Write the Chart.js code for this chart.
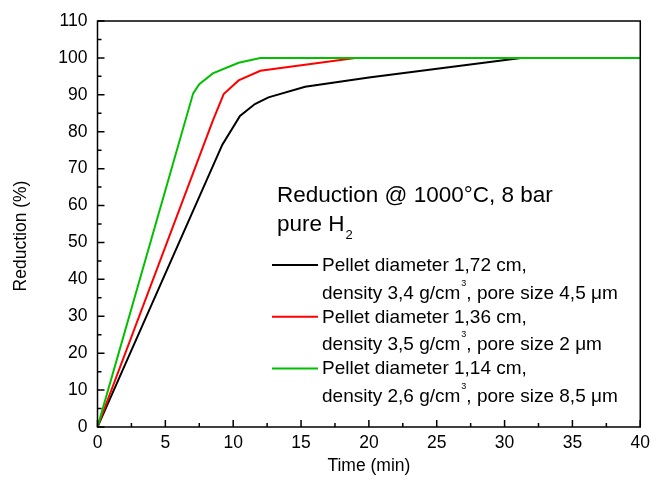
<!DOCTYPE html>
<html>
<head>
<meta charset="utf-8">
<script src="https://cdn.jsdelivr.net/npm/chart.js@4.4.1/dist/chart.umd.min.js"></script>
<style>
  html,body{margin:0;padding:0;background:#fff;}
  #wrap{width:656px;height:487px;position:relative;}
</style>
</head>
<body>
<div id="wrap"><canvas id="c" width="656" height="487"></canvas></div>
<script>
// data (time in min, reduction in %)
const blackX = [0, 9.2, 10.5, 11.6, 12.6, 15.3, 20, 31.2, 40];
const blackY = [0, 76.5, 84.3, 87.5, 89.3, 92.2, 94.7, 100, 100];
const redX = [0, 8.5, 9.3, 10.4, 12, 19, 40];
const redY = [0, 83, 90.2, 93.9, 96.5, 100, 100];
const greenX = [0, 7.05, 7.5, 8.5, 10.4, 12, 40];
const greenY = [0, 90.4, 92.9, 95.8, 98.7, 100, 100];

const xTicks = [0, 5, 10, 15, 20, 25, 30, 35, 40];
const yTicks = [0, 10, 20, 30, 40, 50, 60, 70, 80, 90, 100, 110];

const titleLines = ['Reduction @ 1000°C, 8 bar', 'pure H'];
const legendItems = [
  {color:'#000000', l1:'Pellet diameter 1,72 cm,', l2a:'density 3,4 g/cm', l2b:', pore size 4,5 μm'},
  {color:'#ff0000', l1:'Pellet diameter 1,36 cm,', l2a:'density 3,5 g/cm', l2b:', pore size 2 μm'},
  {color:'#00c000', l1:'Pellet diameter 1,14 cm,', l2a:'density 2,6 g/cm', l2b:', pore size 8,5 μm'}
];

const pts = (xs, ys) => xs.map((x,i)=>({x, y:ys[i]}));
const FONT = '"Liberation Sans", Arial, sans-serif';

const frame = {
  id:'frame',
  afterDatasetsDraw(chart){
    const {ctx, chartArea:a, scales:{x, y}} = chart;
    ctx.save();
    ctx.strokeStyle = '#000'; ctx.lineWidth = 1.5;
    ctx.strokeRect(a.left, a.top, a.right-a.left, a.bottom-a.top);
    // inward ticks, major + minor
    ctx.beginPath();
    for(let v=0; v<=40; v+=2.5){
      const px = x.getPixelForValue(v), len = (v%5===0)?7:4;
      ctx.moveTo(px, a.bottom); ctx.lineTo(px, a.bottom-len);
    }
    for(let v=0; v<=110; v+=5){
      const py = y.getPixelForValue(v), len = (v%10===0)?7:4;
      ctx.moveTo(a.left, py); ctx.lineTo(a.left+len, py);
    }
    ctx.stroke();

    // axis titles
    ctx.fillStyle = '#000';
    ctx.font = '17.5px '+FONT;
    ctx.textAlign = 'center'; ctx.textBaseline = 'middle';
    ctx.fillText('Time (min)', (a.left+a.right)/2, 466);
    ctx.save();
    ctx.translate(21, 236); ctx.rotate(-Math.PI/2);
    ctx.fillText('Reduction (%)', 0, 0);
    ctx.restore();

    // annotation
    ctx.textAlign = 'left'; ctx.textBaseline = 'alphabetic';
    ctx.font = '22.5px '+FONT;
    ctx.fillText(titleLines[0], 277, 202);
    ctx.fillText(titleLines[1], 277, 231);
    const wH = ctx.measureText(titleLines[1]).width;
    ctx.font = '13px '+FONT;
    ctx.fillText('2', 277+wH+1, 239);

    // legend
    legendItems.forEach((it, i)=>{
      const ly = 265 + i*51.7;
      ctx.strokeStyle = it.color; ctx.lineWidth = 2;
      ctx.beginPath(); ctx.moveTo(272, ly); ctx.lineTo(318, ly); ctx.stroke();
      ctx.font = '19px '+FONT;
      ctx.fillText(it.l1, 322, ly+6);
      const by = ly+6+27.5;
      ctx.fillText(it.l2a, 322, by);
      const w1 = ctx.measureText(it.l2a).width;
      ctx.font = '9px '+FONT;
      ctx.fillText('3', 322+w1+1, by-13);
      const w2 = ctx.measureText('3').width;
      ctx.font = '19px '+FONT;
      ctx.fillText(it.l2b, 322+w1+w2+1, by);
    });
    ctx.restore();
  }
};

new Chart(document.getElementById('c'), {
  type:'line',
  data:{datasets:[
    {label:'black', data:pts(blackX, blackY), borderColor:'#000000', order:2},
    {label:'red', data:pts(redX, redY), borderColor:'#ff0000', order:1},
    {label:'green', data:pts(greenX, greenY), borderColor:'#00c000', order:0}
  ]},
  options:{
    responsive:false, animation:false, maintainAspectRatio:false,
    layout:{padding:{top:21, right:13, left:0, bottom:0}},
    elements:{line:{borderWidth:2, tension:0}, point:{radius:0}},
    plugins:{legend:{display:false}, tooltip:{enabled:false}},
    scales:{
      x:{type:'linear', min:0, max:40,
        afterBuildTicks(s){ s.ticks = xTicks.map(v=>({value:v})); },
        afterFit(s){ s.height = 60; },
        grid:{display:false, drawTicks:false}, border:{display:false},
        ticks:{color:'#000', font:{family:FONT, size:17.5}, padding:6, maxRotation:0}},
      y:{type:'linear', min:0, max:110,
        afterBuildTicks(s){ s.ticks = yTicks.map(v=>({value:v})); },
        afterFit(s){ s.width = 97.5; },
        grid:{display:false, drawTicks:false}, border:{display:false},
        ticks:{color:'#000', font:{family:FONT, size:17.5}, padding:10}}
    }
  },
  plugins:[frame]
});
</script>
</body>
</html>
